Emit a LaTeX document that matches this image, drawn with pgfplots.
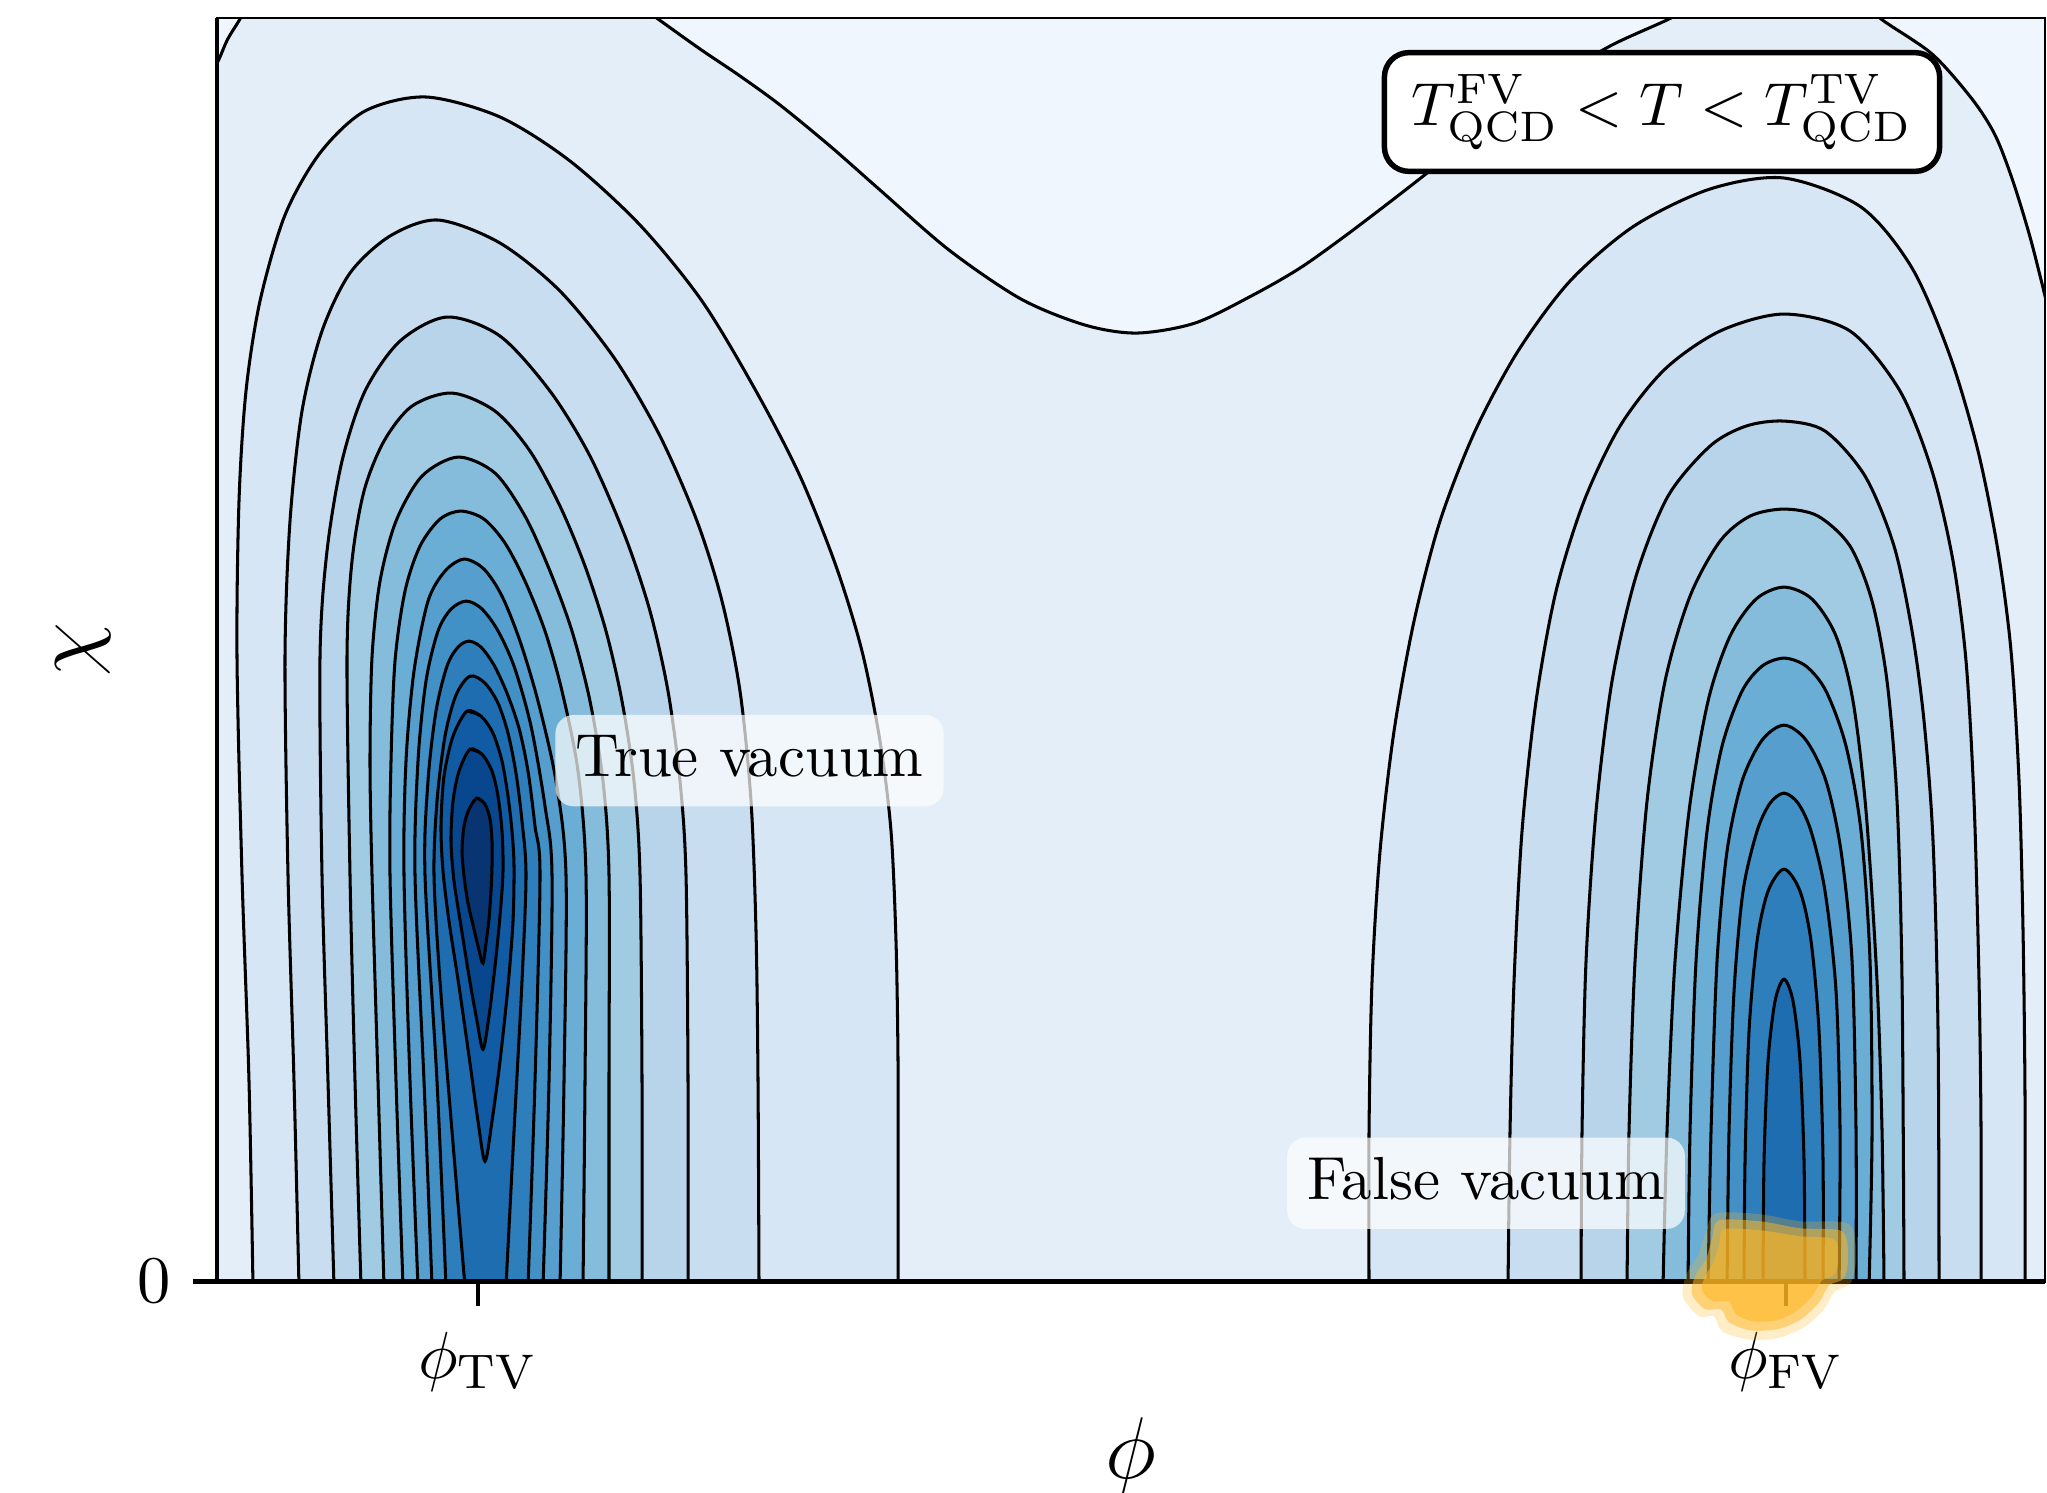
\documentclass[border=0pt]{standalone}
\usepackage{pgfplots}
\pgfplotsset{compat=1.18}
\definecolor{L0}{RGB}{240,246,253}
\definecolor{L1}{RGB}{227,238,248}
\definecolor{L2}{RGB}{214,230,244}
\definecolor{L3}{RGB}{201,221,240}
\definecolor{L4}{RGB}{183,212,234}
\definecolor{L5}{RGB}{161,203,226}
\definecolor{L6}{RGB}{133,188,219}
\definecolor{L7}{RGB}{106,174,214}
\definecolor{L8}{RGB}{85,158,205}
\definecolor{L9}{RGB}{65,145,198}
\definecolor{L10}{RGB}{47,126,188}
\definecolor{L11}{RGB}{31,109,177}
\definecolor{L12}{RGB}{16,91,164}
\definecolor{L13}{RGB}{8,71,141}
\definecolor{L14}{RGB}{8,52,113}
\definecolor{blob}{RGB}{254,182,36}
\pgfplotsset{
  cl/.style={draw=black, line width=0.5pt, smooth},
  common/.style={scale only axis, width=300.7pt, height=207.8pt,
    xmin=217, xmax=2045, ymin=0, ymax=1263},
}
\begin{document}
\begin{tikzpicture}
\begin{axis}[common,
  axis on top,
  axis background/.style={fill=L1},
  axis line style={line width=0.45pt},
  xtick={478,1786}, xticklabels={$\phi_{\mathrm{TV}}$,$\phi_{\mathrm{FV}}$},
  ytick={0}, yticklabels={$0$},
  tick align=outside, tick pos=left,
  major tick length=4pt,
  tick style={black, line width=0.75pt},
  tick label style={font=\fontsize{11}{13}\selectfont},
  xticklabel style={yshift=-0.8pt},
  minor tick num=0,
  xlabel={$\phi$}, ylabel={$\chi$},
  every axis x label/.style={at={([yshift=-28.8pt]axis description cs:0.5,0)}, anchor=center, font=\Large},
  every axis y label/.style={at={([xshift=-22pt]axis description cs:0,0.5)}, rotate=90, anchor=center, font=\Large},
]
% lightest regions (top)
\addplot[fill=L0, draw=none, smooth] coordinates {(205,1195)(218.6,1221)(227.5,1241.5)(240,1262)(248,1278)(150,1300)(150,1150)};
\addplot[cl] coordinates {(205,1195)(218.6,1221)(227.5,1241.5)(240,1262)(248,1278)};
\addplot[fill=L0, draw=none, smooth] coordinates {(640,1275)(658,1262)(700,1232)(740,1205)(780,1176)(830,1135)(880,1091)(949,1031)(1021,982)(1085,956)(1137,948)(1195,958)(1253,986)(1300,1013)(1345,1045)(1395,1083)(1445,1122)(1500,1165)(1560,1205)(1612,1236)(1669,1262)(1690,1275)(1720,1320)(600,1320)};
\addplot[cl] coordinates {(640,1275)(658,1262)(700,1232)(740,1205)(780,1176)(830,1135)(880,1091)(949,1031)(1021,982)(1085,956)(1137,948)(1195,958)(1253,986)(1300,1013)(1345,1045)(1395,1083)(1445,1122)(1500,1165)(1560,1205)(1612,1236)(1669,1262)(1690,1275)};
\addplot[fill=L0, draw=none, smooth] coordinates {(1868,1278)(1881,1262)(1932,1227)(1972,1182)(1995,1146)(2012.5,1101)(2030,1044)(2045,985)(2052,955)(2100,955)(2100,1320)(1868,1320)};
\addplot[cl] coordinates {(1868,1278)(1881,1262)(1932,1227)(1972,1182)(1995,1146)(2012.5,1101)(2030,1044)(2045,985)(2052,955)};
% true vacuum basin
\addplot[cl, fill=L2] coordinates {(253,-5)(249,200)(242,406)(237,624)(239,780)(246,890)(260,980)(285,1066)(320,1128)(365,1170)(426,1184)(500,1164)(570,1120)(640,1056)(702,980)(756,890)(800,805)(836,715)(862,630)(880,540)(891,450)(896,340)(898,220)(898,100)(898,-5)};
\addplot[cl, fill=L3] coordinates {(299,-5)(294,200)(288,406)(285,624)(290,760)(302,870)(322,950)(350,1008)(390,1045)(438,1061)(500,1038)(560,990)(615,922)(660,845)(697,760)(722,680)(740,590)(751,480)(756,350)(758,200)(759,-5)};
\addplot[cl, fill=L4] coordinates {(334,-5)(328,200)(322,406)(320,624)(327,730)(342,820)(365,890)(400,940)(447,964)(500,945)(550,890)(590,825)(625,745)(650,670)(668,590)(680,500)(686,406)(688,200)(688,-5)};
\addplot[cl, fill=L5] coordinates {(361,-5)(355,200)(350,406)(347,624)(352,720)(364,790)(384,840)(412,875)(452,888)(495,870)(530,830)(560,775)(585,715)(606,650)(622,580)(634,500)(640,406)(642,200)(642,-5)};
\addplot[cl, fill=L6] coordinates {(384,-5)(378,200)(372,406)(370,520)(372,624)(380,700)(396,760)(422,805)(458,824)(495,808)(525,765)(550,710)(572,650)(590,580)(603,500)(609,406)(609,200)(609,-5)};
\addplot[cl, fill=L7] coordinates {(403,-5)(396,200)(390,406)(391,520)(395,620)(405,690)(420,735)(440,762)(461,770)(484,762)(505,738)(525,700)(545,650)(562,590)(578,510)(586,406)(585,200)(583,-5)};
\addplot[cl, fill=L8] coordinates {(418,-5)(410,200)(404,406)(406,520)(414,610)(428,680)(445,710)(464,722)(484,712)(502,685)(520,640)(538,580)(556,500)(566,406)(564,200)(560,-5)};
\addplot[cl, fill=L9] coordinates {(432,-5)(424,200)(415,406)(418,520)(426,600)(438,650)(451,672)(466,680)(481,673)(497,652)(514,615)(531,555)(545,475)(552,406)(549,200)(543,-5)};
\addplot[cl, fill=L10] coordinates {(446,-5)(437,200)(425,406)(428,500)(436,570)(447,615)(458,634)(469,640)(481,634)(494,616)(507,588)(519,553)(528,510)(535,455)(540,406)(535,200)(528,-5)};
\addplot[cl, fill=L11] coordinates {(465,-5)(452,150)(440,300)(434,406)(437,480)(445,545)(456,586)(470,605)(485,598)(498,578)(508,548)(516,508)(522,460)(526,406)(522,300)(514,150)(506,-5)};
\addplot[cl, fill=L12] coordinates {(467,570)(481,565)(493,548)(502,520)(508,485)(512,450)(514,415)(513,360)(508,295)(500,220)(492,160)(485,120)(478,160)(469,225)(459,295)(449,360)(443,410)(441,455)(444,505)(453,545)(467,570)(481,565)};
\addplot[cl, fill=L13] coordinates {(470,532)(482,527)(492,510)(498,485)(502,450)(503,410)(500,365)(495,315)(489,265)(483,232)(477,260)(469,305)(461,355)(454,400)(451,440)(453,480)(459,510)(470,532)(482,527)};
\addplot[cl, fill=L14] coordinates {(477,483)(485,477)(490,462)(492,440)(492,415)(491,390)(489,362)(486,338)(483,318)(479,331)(474,352)(468,378)(464,405)(462,430)(464,455)(469,472)(477,483)(485,477)};
% false vacuum basin
\addplot[cl, fill=L2] coordinates {(1369,-5)(1369,150)(1372,300)(1380,430)(1394,550)(1414,660)(1440,760)(1475,850)(1518,930)(1570,1000)(1634,1055)(1710,1092)(1784,1103)(1861,1074)(1912,1013)(1950,925)(1978,830)(1998,730)(2011,630)(2019,500)(2023,350)(2025,180)(2025,-5)};
\addplot[cl, fill=L3] coordinates {(1508,-5)(1510,150)(1514,300)(1522,450)(1536,580)(1556,690)(1584,780)(1620,855)(1665,912)(1720,950)(1784,967)(1850,950)(1900,890)(1932,810)(1953,720)(1966,620)(1974,480)(1979,300)(1981,150)(1981,-5)};
\addplot[cl, fill=L4] coordinates {(1581,-5)(1582,150)(1586,320)(1596,470)(1612,600)(1636,705)(1668,785)(1710,835)(1746,855)(1784,860)(1825,850)(1865,805)(1894,735)(1912,650)(1924,560)(1933,440)(1938,250)(1939,-5)};
\addplot[cl, fill=L5] coordinates {(1627,-5)(1629,150)(1635,320)(1647,480)(1665,600)(1690,685)(1720,740)(1750,765)(1784,772)(1818,765)(1850,735)(1872,680)(1887,600)(1897,480)(1902,300)(1904,-5)};
\addplot[cl, fill=L6] coordinates {(1663,-5)(1667,150)(1675,320)(1689,470)(1708,580)(1730,645)(1756,682)(1784,694)(1812,682)(1836,645)(1853,580)(1866,470)(1877,300)(1882,150)(1884,-5)};
\addplot[cl, fill=L7] coordinates {(1688,-5)(1690,150)(1696,320)(1707,450)(1722,535)(1742,590)(1762,615)(1784,623)(1806,615)(1826,590)(1846,535)(1861,450)(1870,320)(1872,150)(1869,-5)};
\addplot[cl, fill=L8] coordinates {(1708,-5)(1711,150)(1717,320)(1727,430)(1742,500)(1762,541)(1784,556)(1806,541)(1826,500)(1841,430)(1852,320)(1856,150)(1856,-5)};
\addplot[cl, fill=L9] coordinates {(1727,-5)(1729,150)(1734,290)(1743,390)(1757,450)(1770,478)(1784,488)(1798,478)(1811,450)(1825,390)(1836,290)(1840,150)(1839,-5)};
\addplot[cl, fill=L10] coordinates {(1744,-5)(1745,120)(1749,250)(1757,340)(1768,390)(1784,412)(1800,390)(1811,340)(1819,250)(1823,120)(1823,-5)};
\addplot[cl, fill=L11] coordinates {(1763,-5)(1764,120)(1768,220)(1775,280)(1784,302)(1793,280)(1800,220)(1804,120)(1805,-5)};
% annotations
\node[fill=white, fill opacity=0.7, text opacity=1, rounded corners=3pt, inner sep=3.3pt, text height=6.83pt, text depth=1.6pt] at (axis cs:749.5,520.5) {True vacuum};
\node[fill=white, fill opacity=0.7, text opacity=1, rounded corners=3pt, inner sep=3.3pt, text height=6.83pt, text depth=1.6pt] at (axis cs:1486,98) {False vacuum};
\node[draw=black, line width=0.9pt, fill=white, rounded corners=4pt, inner xsep=4.5pt, inner ysep=3.5pt] at (axis cs:1662,1169) {$T^{\mathrm{FV}}_{\mathrm{QCD}} < T < T^{\mathrm{TV}}_{\mathrm{QCD}}$};
\coordinate (bbsw) at (axis cs:0,-211);
\coordinate (bbne) at (axis cs:2047,1281);
\end{axis}
\begin{axis}[common, hide axis, clip=false]
\draw[line width=0.75pt] (rel axis cs:0,1) -- (rel axis cs:0,0) -- (rel axis cs:1,0);
\addplot[fill=blob, fill opacity=0.25, draw=none, smooth] coordinates {(1716,68)(1760,67)(1800,60)(1849,57)(1856,24)(1851,-1)(1834,-11)(1824,-28)(1804,-46)(1777,-57)(1748,-58)(1722,-50)(1714,-35)(1699,-35)(1683,-16)(1686,6)(1698,26)(1705,47)(1716,68)(1760,67)};
\addplot[fill=blob, fill opacity=0.5, draw=none, smooth] coordinates {(1719,61)(1760,60)(1800,53)(1842,50)(1848,24)(1844,3)(1829,-4)(1819,-21)(1801,-38)(1777,-48)(1750,-49)(1729,-41)(1721,-28)(1705,-28)(1692,-13)(1695,5)(1706,22)(1712,43)(1719,61)(1760,60)};
\addplot[fill=blob, fill opacity=0.55, draw=none, smooth] coordinates {(1724,52)(1760,51)(1800,45)(1834,42)(1838,24)(1835,7)(1822,1)(1812,-15)(1796,-30)(1777,-39)(1753,-40)(1736,-33)(1729,-20)(1713,-20)(1702,-9)(1705,5)(1714,20)(1719,37)(1724,52)(1760,51)};
\end{axis}
\pgfresetboundingbox
\path[use as bounding box] (bbsw) rectangle (bbne);
\end{tikzpicture}
\end{document}
